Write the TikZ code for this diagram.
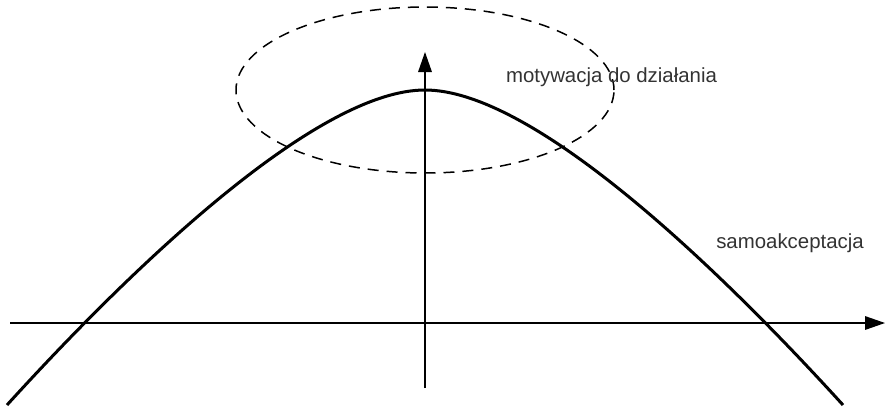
\documentclass[tikz,border=0pt]{standalone}
\usepackage{fontspec}
\setmainfont{Liberation Sans}
\usepackage{tikz}
\usetikzlibrary{positioning,arrows.meta}

\begin{document}
\begin{tikzpicture}[
  x=0.5pt, y=-0.5pt,
  axisline/.style={line width=0.65pt, -{Triangle[length=10pt,width=6.8pt]}},
  curveline/.style={line width=1.5pt},
  zone/.style={draw, dash pattern=on 5.5pt off 4pt, line width=0.75pt},
  tag/.style={font=\fontsize{10.2}{12}\selectfont, text=black!80,
              inner sep=0pt, anchor=base}
]
  \useasboundingbox (0,0) rectangle (885,408);

  % axes
  \coordinate (xstart) at (10,323);
  \coordinate (xend)   at (885,323);
  \coordinate (ystart) at (425,388);
  \coordinate (yend)   at (425,52);
  \draw[axisline] (xstart) -- (xend);
  \draw[axisline] (ystart) -- (yend);

  % curve
  \coordinate (lend) at (7,405);
  \coordinate (peak) at (425,90);
  \coordinate (rend) at (843,405);
  \draw[curveline] (lend) .. controls (127,273) and (315,90) .. (peak)
    .. controls (535,90) and (723,273) .. (rend);

  % zone round the top
  \draw[zone] (peak) ellipse [x radius=94.5pt, y radius=41.5pt];

  % labels
  \node[tag] (motiv) at (611.5,82) {motywacja do działania};
  \node[tag] (accept) at (790,248) {samoakceptacja};
\end{tikzpicture}
\end{document}
